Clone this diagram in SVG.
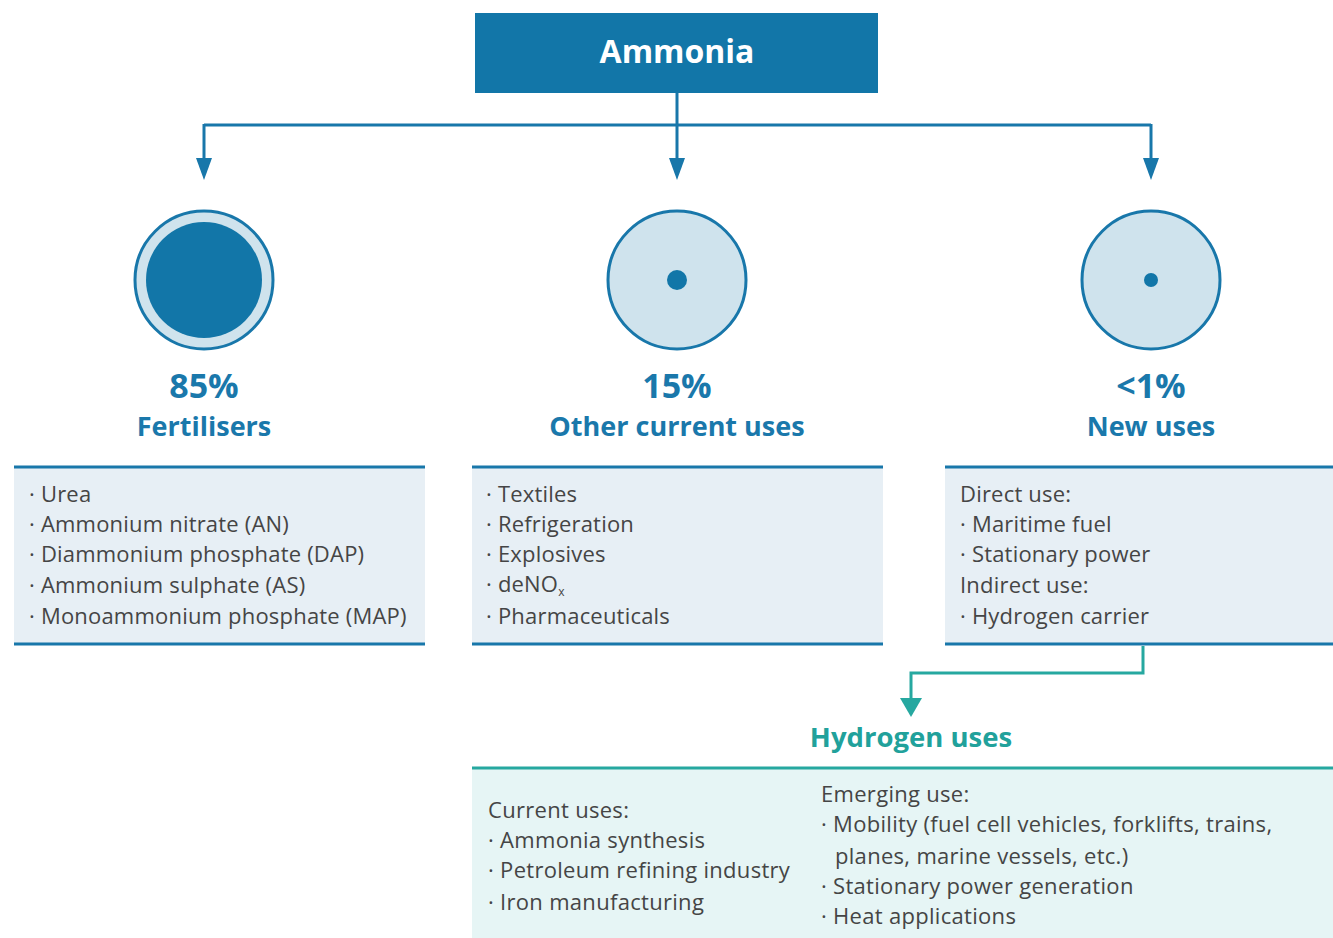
<svg xmlns="http://www.w3.org/2000/svg" width="1333" height="938" viewBox="0 0 1333 938">
<defs>
<style>
.title{font-family:"Open Sans","Noto Sans",sans-serif;font-weight:700;fill:#ffffff;font-size:32px}
.pct{font-family:"Open Sans","Noto Sans",sans-serif;font-weight:700;fill:#1a78ab;font-size:34px}
.cat{font-family:"Open Sans","Noto Sans",sans-serif;font-weight:700;fill:#1a78ab;font-size:27px}
.h2{font-family:"Open Sans","Noto Sans",sans-serif;font-weight:700;fill:#21a19b;font-size:27.5px}
.item{font-family:"Open Sans","Noto Sans",sans-serif;fill:#454545;font-size:22px;letter-spacing:0.2px}
.item2{font-family:"Open Sans","Noto Sans",sans-serif;fill:#454545;font-size:22px;letter-spacing:0.3px}
.blue{stroke:#1877aa;fill:none;stroke-width:3}
.teal{stroke:#26a8a0;fill:none;stroke-width:3}
.boxfill{fill:#e7eff5}
.hfill{fill:#e6f5f5}
</style>
</defs>
<rect width="1333" height="938" fill="#ffffff"/>

<g id="connectors">
<line x1="677" y1="93" x2="677" y2="125" class="blue"/>
<line x1="204" y1="125" x2="1151" y2="125" class="blue"/>
<path d="M204,124 V160" class="blue"/>
<path d="M204,158 L196,158 L204,180 L212,158 Z" fill="#1877aa"/>
<path d="M677,124 V160" class="blue"/>
<path d="M677,158 L669,158 L677,180 L685,158 Z" fill="#1877aa"/>
<path d="M1151,124 V160" class="blue"/>
<path d="M1151,158 L1143,158 L1151,180 L1159,158 Z" fill="#1877aa"/>
<path d="M1143,646 V673 H911 V700" class="teal"/>
<path d="M900,698 L922,698 L911,717 Z" fill="#26a8a0"/>
</g>

<g id="ammonia">
<rect x="475" y="13" width="403" height="80" fill="#1276a8"/>
<text x="677" y="63" text-anchor="middle" class="title">Ammonia</text>
</g>

<g id="fertilisers">
<circle cx="204" cy="280" r="69" fill="#cfe3ed" stroke="#1877aa" stroke-width="3"/>
<circle cx="204" cy="280" r="58" fill="#1276a8"/>
<text x="204" y="398" text-anchor="middle" class="pct">85%</text>
<text x="204" y="436" text-anchor="middle" class="cat">Fertilisers</text>
<rect x="14" y="467" width="411" height="178" class="boxfill"/>
<line x1="14" y1="467" x2="425" y2="467" class="blue"/>
<line x1="14" y1="644" x2="425" y2="644" class="blue"/>
<text class="item" x="29" y="502">· Urea</text>
<text class="item" x="29" y="532">· Ammonium nitrate (AN)</text>
<text class="item" x="29" y="562">· Diammonium phosphate (DAP)</text>
<text class="item" x="29" y="593">· Ammonium sulphate (AS)</text>
<text class="item" x="29" y="624">· Monoammonium phosphate (MAP)</text>
</g>

<g id="other">
<circle cx="677" cy="280" r="69" fill="#cfe3ed" stroke="#1877aa" stroke-width="3"/>
<circle cx="677" cy="280" r="10" fill="#1276a8"/>
<text x="677" y="398" text-anchor="middle" class="pct">15%</text>
<text x="677" y="436" text-anchor="middle" class="cat">Other current uses</text>
<rect x="472" y="467" width="411" height="178" class="boxfill"/>
<line x1="472" y1="467" x2="883" y2="467" class="blue"/>
<line x1="472" y1="644" x2="883" y2="644" class="blue"/>
<text class="item" x="486" y="502">· Textiles</text>
<text class="item" x="486" y="532">· Refrigeration</text>
<text class="item" x="486" y="562">· Explosives</text>
<text class="item" x="486" y="592">· deNO<tspan font-size="12" dy="4">x</tspan></text>
<text class="item" x="486" y="624">· Pharmaceuticals</text>
</g>

<g id="new">
<circle cx="1151" cy="280" r="69" fill="#cfe3ed" stroke="#1877aa" stroke-width="3"/>
<circle cx="1151" cy="280" r="7" fill="#1276a8"/>
<text x="1151" y="398" text-anchor="middle" class="pct">&lt;1%</text>
<text x="1151" y="436" text-anchor="middle" class="cat">New uses</text>
<rect x="945" y="467" width="388" height="178" class="boxfill"/>
<line x1="945" y1="467" x2="1333" y2="467" class="blue"/>
<line x1="945" y1="644" x2="1333" y2="644" class="blue"/>
<text class="item" x="960" y="502">Direct use:</text>
<text class="item" x="960" y="532">· Maritime fuel</text>
<text class="item" x="960" y="562">· Stationary power</text>
<text class="item" x="960" y="593">Indirect use:</text>
<text class="item" x="960" y="624">· Hydrogen carrier</text>
</g>

<g id="hydrogen">
<text x="911" y="747" text-anchor="middle" class="h2">Hydrogen uses</text>
<rect x="472" y="767" width="861" height="171" class="hfill"/>
<line x1="472" y1="768" x2="1333" y2="768" class="teal"/>
<text class="item2" x="488" y="818">Current uses:</text>
<text class="item2" x="488" y="848">· Ammonia synthesis</text>
<text class="item2" x="488" y="878">· Petroleum refining industry</text>
<text class="item2" x="488" y="910">· Iron manufacturing</text>
<text class="item2" x="821" y="802">Emerging use:</text>
<text class="item2" x="821" y="832">· Mobility (fuel cell vehicles, forklifts, trains,</text>
<text class="item2" x="835" y="864">planes, marine vessels, etc.)</text>
<text class="item2" x="821" y="894">· Stationary power generation</text>
<text class="item2" x="821" y="924">· Heat applications</text>
</g>
</svg>
